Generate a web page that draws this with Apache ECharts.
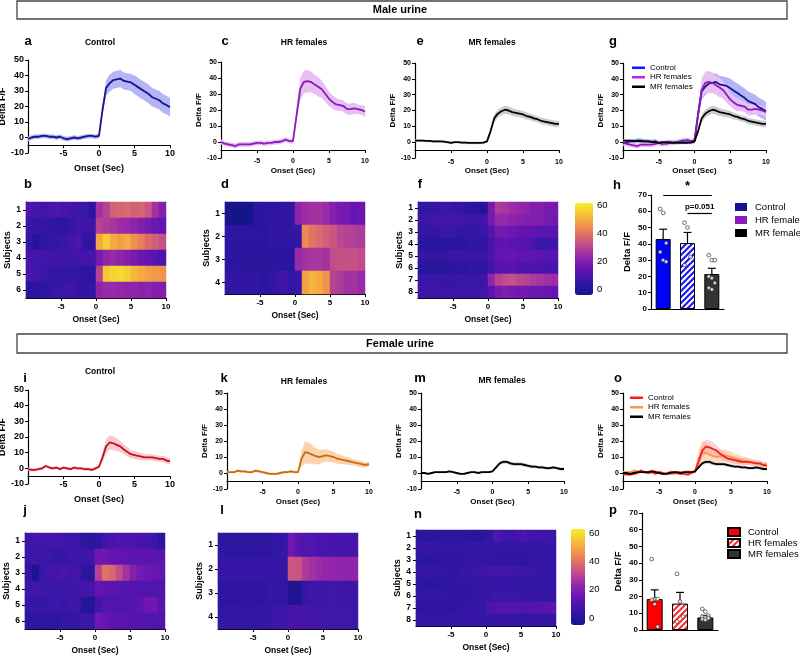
<!DOCTYPE html>
<html><head><meta charset="utf-8">
<script src="https://cdn.jsdelivr.net/npm/echarts@6/dist/echarts.min.js"></script>
<style>html,body{margin:0;padding:0;background:#fff}#c{width:800px;height:657px}</style>
</head><body><div id="c"></div>
<script>
// ---------- DATA ----------
const T = [-10,-9.5,-9,-8.5,-8,-7.5,-7,-6.5,-6,-5.5,-5,-4.5,-4,-3.5,-3,-2.5,-2,-1.5,-1,-0.5,0,0.5,1,1.5,2,2.5,3,3.5,4,4.5,5,5.5,6,6.5,7,7.5,8,8.5,9,9.5,10];

const maleControlMean = [-1,0,0.5,0.5,1,1,0.5,0.5,0,0.5,-0.5,-1,-0.5,0,-0.5,0,0.5,1,1,0.5,1, 18,32,35,37,37.5,38,36.5,36,35.5,34,32.5,31,29.5,28,26,25,24,22,21,19.5];
const maleControlSem  = [1.5,1.5,1.5,1.5,1.5,1.5,1.5,1.5,1.5,1.5,1.5,1.5,1.5,1.5,1.5,1.5,1.5,1.5,1.5,1.5,1.5, 3,5,5.5,5.5,5.5,5.5,5.5,5.5,5.5,6,6,6,6,6,6,6,6,6,6,6];
const maleHRMean = [0,-1,-1.5,-2,-2.5,-1.5,-1.5,-1.5,-1.5,-1,-0.5,-0.5,-1,-0.5,-0.5,0,0,0.5,1.5,0.5,0.5, 17,33,37.5,38,37.5,36,34.5,33,30,27,25,23.5,23,22.5,20.5,20.5,21,20.5,20,19];
const maleHRSem  = [1.5,1.5,1.5,1.5,1.5,1.5,1.5,1.5,1.5,1.5,1.5,1.5,1.5,1.5,1.5,1.5,1.5,1.5,1.5,1.5,1.5, 4,7,7,7,6.5,6,6,5.5,5,4.5,4,4,3.5,3.5,3.5,3.5,3.5,3,3,3.5];
const maleMRMean = [1,1,1,0.8,0.8,0.5,0.5,0.5,0.3,0,-0.5,0,0,-0.3,-0.3,-0.5,-0.5,-0.5,-0.5,-0.3,0.5, 7,15,18,19.5,20.5,20,19,18.5,18,17.5,16.5,16,15,14.5,13.5,13,12.5,12,11.5,11.5];
const maleMRSem  = [0.8,0.8,0.8,0.8,0.8,0.8,0.8,0.8,0.8,0.8,0.8,0.8,0.8,0.8,0.8,0.8,0.8,0.8,0.8,0.8,0.8, 1.5,2.5,2.5,2.5,2.5,2.5,2.5,2.3,2.3,2.2,2.2,2,2,2,2,2,2,2,2,2];

const femaleControlMean = [-0.5,-1,-1,-0.5,0,1.5,0.5,0,0.5,-0.5,0.5,0,-0.5,0.5,0,0,-0.5,-0.5,-1,0,1, 7,14,16.5,16,15,14,12,10.5,9,8.5,8,7.5,7,7,7,6.5,6,6,5,4.5];
const femaleControlSem  = [1,1,1,1,1,1,1,1,1,1,1,1,1,1,1,1,1,1,1,1,1, 3,4.5,4.5,4.5,4,3.5,3,3,2.5,2.5,2.5,2.2,2.2,2,2,2,2,2,2,1.8];
const femaleHRMean = [0.5,0.5,0.5,1.5,1,1,0.5,0.5,1.5,1,0.5,0,-0.5,-0.5,-0.5,0,0.5,0.5,1,0.5,0.5, 9,13,12.5,11.5,10.5,10,10.5,11,10.5,10,9,8.5,8,7.5,7,6.5,6,5.5,5,5.5];
const femaleHRSem  = [0.8,0.8,0.8,0.8,0.8,0.8,0.8,0.8,0.8,0.8,0.8,0.8,0.8,0.8,0.8,0.8,0.8,0.8,0.8,0.8,0.8, 5,7,6.5,6,5,4.5,4,4,3.5,3.5,3,3,2.5,2.5,2,2,2,2,1.5,1.5];
const femaleMRMean = [0,0,-0.5,0,0.5,0.5,0.5,0.5,1,0.5,0,-0.5,-0.5,0,0.5,0.5,0,0.5,0.5,0.5,1, 3.5,6,7,7,6,5.5,5.5,5.5,5,4.5,4,4,3.5,3.5,3,3,3.5,3,2.5,2.5];
const femaleMRSem  = [0.7,0.7,0.7,0.7,0.7,0.7,0.7,0.7,0.7,0.7,0.7,0.7,0.7,0.7,0.7,0.7,0.7,0.7,0.7,0.7,0.7, 1,1.2,1.2,1.2,1.2,1.2,1.2,1.2,1.1,1.1,1.1,1,1,1,1,1,1,1,1,1];

// heatmap time bins (centres, s) and subject labels
const BINS = ['-9.5','-8.5','-7.5','-6.5','-5.5','-4.5','-3.5','-2.5','-1.5','-0.5','0.5','1.5','2.5','3.5','4.5','5.5','6.5','7.5','8.5','9.5'];
const subj4 = ['1','2','3','4'];
const subj6 = ['1','2','3','4','5','6'];
const subj8 = ['1','2','3','4','5','6','7','8'];

const hmMaleControl = [
 [10,9,8,9,10,9,8,7,6,3, 26,30,36,37,38,36,37,34,26,20],
 [6,5,5,4,3,3,5,7,8,7, 30,28,27,25,24,22,20,18,16,15],
 [5,0,4,5,5,6,8,10,4,3, 50,56,50,48,50,45,42,38,36,33],
 [9,8,8,8,7,8,7,8,8,9, 18,22,24,22,20,18,16,14,12,10],
 [10,8,6,5,5,4,5,4,3,2, 30,55,57,58,56,52,50,48,47,46],
 [2,2,3,4,6,7,7,5,4,5, 22,24,24,23,22,22,21,22,20,20]
];
const hmMaleHR = [
 [-3,-4,-4,-4,2,3,3,4,4,4, 22,25,26,26,24,20,18,17,15,16],
 [4,3,3,3,3,3,4,4,4,4, 5,44,40,38,36,34,31,30,29,28],
 [3,3,2,2,2,2,2,3,2,2, 24,26,27,27,26,32,33,33,33,32],
 [5,4,4,4,4,3,4,6,8,4, 6,48,52,50,46,30,28,26,26,24]
];
const hmMaleMR = [
 [4,5,5,6,6,5,4,3,1,0, 18,28,27,25,23,22,20,20,18,18],
 [7,7,8,8,8,8,8,7,7,8, 18,24,24,22,21,20,20,19,18,17],
 [5,5,5,6,6,5,5,5,5,6, 12,18,17,16,15,14,14,13,13,13],
 [3,2,2,2,2,2,3,4,4,4, 9,13,14,13,12,11,9,6,6,8],
 [5,5,5,5,5,6,6,6,6,6, 10,14,15,15,14,14,13,13,12,12],
 [2,1,1,1,2,3,3,4,4,4, 8,12,12,12,11,10,10,10,9,9],
 [6,6,6,6,5,6,6,6,6,7, 22,30,32,33,31,30,28,27,26,25],
 [7,7,7,7,6,7,7,7,8,8, 13,18,19,18,17,17,16,16,15,15]
];
const hmFemaleControl = [
 [7,8,7,8,7,7,6,6,3,1, 3,7,9,10,9,9,8,8,6,2],
 [6,6,6,6,5,5,6,6,6,7, 16,16,14,14,13,12,13,13,12,12],
 [4,-3,5,7,8,9,7,8,2,1, 30,40,38,32,26,20,17,16,15,14],
 [7,7,7,6,6,6,6,7,8,8, 14,13,12,12,11,11,10,10,10,10],
 [5,5,5,6,6,5,6,6,0,-1, 8,10,11,10,10,11,13,16,16,12],
 [3,3,2,2,3,4,4,5,6,6, 16,15,13,12,12,11,11,11,10,10]
];
const hmFemaleHR = [
 [3,2,2,2,2,3,3,3,4,5, 16,12,10,10,9,9,8,8,8,8],
 [5,5,5,5,5,5,5,5,5,5, 34,34,28,26,24,23,22,22,22,22],
 [3,3,3,3,3,3,3,4,4,4, -2,-2,5,6,6,7,7,7,6,6],
 [4,5,5,4,4,4,5,5,6,6, 8,8,8,8,7,7,7,7,7,7]
];
const hmFemaleMR = [
 [2,1,2,3,3,2,3,2,1,1, 4,10,8,6,8,9,8,7,6,6],
 [5,5,5,5,4,4,4,5,5,5, 5,5,4,4,4,5,5,5,5,5],
 [3,2,2,3,3,3,3,4,4,4, 4,3,3,3,3,3,4,4,5,5],
 [5,5,5,4,4,3,5,5,6,6, 7,8,7,7,6,6,6,5,5,5],
 [3,2,2,2,3,4,4,4,4,5, 5,5,5,5,4,4,4,4,5,5],
 [4,4,5,4,4,3,3,3,4,4, 5,6,6,6,6,5,5,5,5,5],
 [2,2,3,3,3,3,4,5,5,5, 9,10,11,11,10,10,10,11,12,12],
 [4,4,4,4,5,5,5,5,5,5, 5,5,5,5,5,5,5,5,5,5]
];

// bar charts
const barCats = ['Control','HR females','MR females'];
const hMeans = [43, 40.5, 21.5];
const hSems  = [6, 6.5, 3.5];
const hPoints = [[61.5,59,40.5,35,30,29],[53,50,32,27],[33,30,30,20,19,16,13,12]];
const pMeans = [18.5, 15.8, 7.5];
const pSems  = [5.5, 6.7, 1.2];
const pPoints = [[42.4,18.5,18.5,18,15.5,2],[33.6,17,8,5],[12.6,11,8.5,8,7.5,7,6.5,6]];

const colorbarTicks = [0,20,40,60];

// ---------- BUILD ----------
const FONT = '"Liberation Sans", Arial, Helvetica, sans-serif';
const CMAP = ['#15158a','#3516a6','#6514b3','#9a2aa8','#c95484','#ec8455','#f8b83a','#f2f224'];
const grids=[], xAxes=[], yAxes=[], series=[], legends=[], visualMaps=[], graphics=[];
function addGrid(l,t,w,h){grids.push({left:l,top:t,width:w,height:h,containLabel:false,outerBoundsMode:'none'});return grids.length-1;}
const axLine={show:true,onZero:false,lineStyle:{color:'#000',width:1.2}};
const axTick={show:true,length:3,lineStyle:{color:'#000',width:1}};
function lbl(fs,m,w){return {fontSize:fs,fontWeight:w||'bold',color:'#000',margin:m,fontFamily:FONT};}
function nts(fs){return {fontSize:fs,fontWeight:'bold',color:'#000',fontFamily:FONT};}

function bandSeries(xi,yi,mean,sem,color){
  return {type:'custom',xAxisIndex:xi,yAxisIndex:yi,silent:true,data:[[0,0]],clip:false,
    renderItem:(p,api)=>{
      if(p.dataIndex!==0) return;
      const up=T.map((t,i)=>api.coord([t,mean[i]+sem[i]]));
      const lo=T.map((t,i)=>api.coord([t,mean[i]-sem[i]])).reverse();
      return {type:'polygon',shape:{points:up.concat(lo)},style:{fill:color}};
    }};
}
function lineSeries(xi,yi,mean,color,name){
  return {type:'line',name:name,xAxisIndex:xi,yAxisIndex:yi,data:T.map((t,i)=>[t,mean[i]]),
    showSymbol:false,symbol:'none',lineStyle:{color:color,width:1.8},itemStyle:{color:color},silent:true};
}
function linePanel(p){
  const gi=addGrid(p.l,p.t,p.w,p.h);
  const xi=xAxes.length;
  xAxes.push({gridIndex:gi,type:'value',min:-10,max:10,interval:5,position:'bottom',offset:-p.h/12,
    axisLine:axLine,axisTick:axTick,splitLine:{show:false},
    axisLabel:Object.assign(lbl(p.fs,p.xm),{showMinLabel:false}),
    name:'Onset (Sec)',nameLocation:'middle',nameGap:p.xng,nameTextStyle:nts(p.nfs)});
  const yi=yAxes.length;
  yAxes.push({gridIndex:gi,type:'value',min:-10,max:50,interval:10,
    axisLine:axLine,axisTick:axTick,splitLine:{show:false},axisLabel:lbl(p.fs,4),
    name:'Delta F/F',nameLocation:'middle',nameRotate:90,nameGap:p.yng,nameTextStyle:nts(p.nfs)});
  p.traces.forEach(tr=>{
    series.push(bandSeries(xi,yi,tr.mean,tr.sem,tr.band));
    series.push(lineSeries(xi,yi,tr.mean,tr.color,tr.name));
  });
}
function heatPanel(p){
  const gi=addGrid(p.l,p.t,p.w,p.h);
  const xc=xAxes.length;
  xAxes.push({gridIndex:gi,type:'category',data:BINS,show:false,position:'bottom'});
  xAxes.push({gridIndex:gi,type:'value',min:-10,max:10,interval:5,position:'bottom',
    axisLine:axLine,axisTick:axTick,splitLine:{show:false},
    axisLabel:Object.assign(lbl(8,5),{showMinLabel:false}),
    name:'Onset (Sec)',nameLocation:'middle',nameGap:p.xng,nameTextStyle:nts(8.5)});
  const yc=yAxes.length;
  yAxes.push({gridIndex:gi,type:'category',data:p.subj,inverse:true,
    axisLine:axLine,axisTick:Object.assign({alignWithLabel:true},axTick),splitLine:{show:false},
    axisLabel:lbl(8.5,5),name:'Subjects',nameLocation:'middle',nameRotate:90,nameGap:p.yng,nameTextStyle:nts(9)});
  const data=[];
  p.rows.forEach((r,yi)=>r.forEach((v,xi)=>data.push([xi,yi,v])));
  series.push({type:'heatmap',xAxisIndex:xc,yAxisIndex:yc,data:data,silent:true,emphasis:{disabled:true},z:1});
  return series.length-1;
}
function colorbar(p){
  visualMaps.push({type:'continuous',min:p.min,max:p.max,seriesIndex:p.sidx,inRange:{color:CMAP},
    left:p.l,top:p.t,itemWidth:p.w,itemHeight:p.h,calculable:false,hoverLink:false,padding:0,text:null,orient:'vertical'});
  const gi=addGrid(p.l,p.t,p.w,p.h);
  xAxes.push({gridIndex:gi,type:'value',show:false,min:0,max:1});
  yAxes.push({gridIndex:gi,type:'value',position:'right',min:p.min,max:p.max,
    axisLine:{show:false},axisTick:{show:true,length:3,inside:false,customValues:colorbarTicks,lineStyle:{color:'#000'}},
    splitLine:{show:false},axisLabel:Object.assign(lbl(9.5,4,'normal'),{customValues:colorbarTicks})});
}
function hatch(color){
  const c=document.createElement('canvas');c.width=c.height=6;
  const g=c.getContext('2d');g.fillStyle='#fff';g.fillRect(0,0,6,6);
  g.strokeStyle=color;g.lineWidth=2.2;g.beginPath();
  g.moveTo(-1,7);g.lineTo(7,-1);g.moveTo(-4,4);g.lineTo(4,-4);g.moveTo(2,10);g.lineTo(10,2);g.stroke();
  return {image:c,repeat:'repeat'};
}
function barPanel(p){
  const gi=addGrid(p.l,p.t,p.w,p.h);
  const xi=xAxes.length;
  xAxes.push({gridIndex:gi,type:'category',data:barCats,axisLine:axLine,axisTick:{show:false},axisLabel:{show:false},splitLine:{show:false}});
  const yi=yAxes.length;
  yAxes.push({gridIndex:gi,type:'value',min:0,max:70,interval:10,axisLine:axLine,axisTick:axTick,splitLine:{show:false},
    axisLabel:lbl(8,4),name:'Delta F/F',nameLocation:'middle',nameRotate:90,nameGap:p.yng,nameTextStyle:nts(9.5)});
  p.fills.forEach((f,k)=>{
    const s={type:'bar',name:barCats[k]+p.suffix,xAxisIndex:xi,yAxisIndex:yi,barWidth:p.bw,barGap:'-100%',
      data:barCats.map((c,j)=>j===k?p.means[k]:'-'),itemStyle:{color:f,borderColor:'#000',borderWidth:1},silent:true,z:2};
    if(k===0 && p.sig){
      s.markLine={silent:true,symbol:['none','none'],animation:false,
        lineStyle:{color:'#000',width:1.2,type:'solid'},
        label:{show:true,position:'middle',color:'#000',fontWeight:'bold',fontFamily:FONT,distance:2},
        data:p.sig.map(g=>[{coord:[g[0],g[2]],label:{formatter:g[3],fontSize:g[4]}},{coord:[g[1],g[2]]}])};
    }
    series.push(s);
  });
  series.push({type:'custom',xAxisIndex:xi,yAxisIndex:yi,z:4,silent:true,
    data:p.means.map((m,i)=>[i,m,p.sems[i]]),encode:{x:0,y:1},
    renderItem:(pr,api)=>{
      const x=api.value(0),m=api.value(1),s=api.value(2);
      const b=api.coord([x,m]),t=api.coord([x,m+s]);
      return {type:'group',children:[
        {type:'line',shape:{x1:b[0],y1:b[1],x2:t[0],y2:t[1]},style:{stroke:'#000',lineWidth:1.2}},
        {type:'line',shape:{x1:t[0]-4,y1:t[1],x2:t[0]+4,y2:t[1]},style:{stroke:'#000',lineWidth:1.2}}]};
    }});
  p.points.forEach((arr,k)=>{
    series.push({type:'scatter',xAxisIndex:xi,yAxisIndex:yi,z:5,silent:true,symbol:'circle',symbolSize:3.8,
      data:arr.map((v,i)=>({value:[k,v],symbolOffset:[((i%3)-1)*3,0]})),
      itemStyle:{color:'#fff',borderColor:'#222',borderWidth:0.8}});
  });
  legends.push({orient:'vertical',left:p.legL,top:p.legT,itemWidth:12,itemHeight:8,itemGap:p.legGap,icon:'rect',
    selectedMode:false,data:barCats.map(c=>c+p.suffix),formatter:n=>n.trim(),
    textStyle:{fontSize:9.5,color:'#000',fontFamily:FONT,lineHeight:10,padding:[0,0,0,3]}});
}

// ---- male row ----
linePanel({l:28,t:60,w:142,h:93,fs:9,nfs:9,xm:4,xng:19,yng:18,
  traces:[{mean:maleControlMean,sem:maleControlSem,color:'#14148c',band:'#b3b5f6'}]});
linePanel({l:221,t:62,w:144,h:96,fs:7,nfs:8,xm:8,xng:17,yng:18,
  traces:[{mean:maleHRMean,sem:maleHRSem,color:'#8c1bbd',band:'#e8bff2'}]});
linePanel({l:415,t:63,w:144,h:95,fs:7,nfs:8,xm:8,xng:17,yng:18,
  traces:[{mean:maleMRMean,sem:maleMRSem,color:'#000',band:'#cdcdcd'}]});
linePanel({l:623,t:63,w:143,h:95,fs:7,nfs:8,xm:8,xng:17,yng:18,
  traces:[{mean:maleControlMean,sem:maleControlSem,color:'#14148c',band:'#b3b5f6',name:'Control'},
          {mean:maleHRMean,sem:maleHRSem,color:'#8c1bbd',band:'#e8bff2',name:'HR females'},
          {mean:maleMRMean,sem:maleMRSem,color:'#000',band:'#cdcdcd',name:'MR females'}]});
legends.push({orient:'vertical',left:627,top:58,itemWidth:13,itemHeight:2.5,itemGap:0,icon:'rect',selectedMode:false,
  data:[{name:'Control',itemStyle:{color:'#1515ff'}},{name:'HR females',itemStyle:{color:'#c020e8'}},{name:'MR females',itemStyle:{color:'#000'}}],
  textStyle:{fontSize:8,color:'#000',fontFamily:FONT,lineHeight:9.5}});

const sB=heatPanel({l:26,t:202,w:140,h:96,subj:subj6,rows:hmMaleControl,xng:17,yng:14});
const sD=heatPanel({l:225,t:202,w:140,h:92,subj:subj4,rows:hmMaleHR,xng:17,yng:14});
const sF=heatPanel({l:418,t:202,w:140,h:96,subj:subj8,rows:hmMaleMR,xng:17,yng:14});
colorbar({l:575,t:203,w:18,h:92,min:-4,max:62,sidx:[sB,sD,sF]});

barPanel({l:651,t:195,w:73,h:114,bw:15,yng:19,suffix:'',means:hMeans,sems:hSems,points:hPoints,
  fills:['#0000ff',hatch('#1a1aff'),'#333333'],legL:730,legT:197,legGap:3,
  sig:[['Control','MR females',70,'*',13],['HR females','MR females',59,'p=0.051',8]]});

// ---- female row ----
linePanel({l:28,t:390,w:142,h:94,fs:9,nfs:9,xm:4,xng:19,yng:18,
  traces:[{mean:femaleControlMean,sem:femaleControlSem,color:'#c0121a',band:'#f8c8ce'}]});
linePanel({l:227,t:393,w:142,h:96,fs:7,nfs:8,xm:8,xng:17,yng:18,
  traces:[{mean:femaleHRMean,sem:femaleHRSem,color:'#cc6a12',band:'#fbd3ad'}]});
linePanel({l:421,t:393,w:143,h:96,fs:7,nfs:8,xm:8,xng:17,yng:18,
  traces:[{mean:femaleMRMean,sem:femaleMRSem,color:'#000',band:'#cfcfcf'}]});
linePanel({l:623,t:393,w:144,h:96,fs:7,nfs:8,xm:8,xng:17,yng:18,
  traces:[{mean:femaleHRMean,sem:femaleHRSem,color:'#f39a4a',band:'#fcdcbc',name:'HR females '},
          {mean:femaleControlMean,sem:femaleControlSem,color:'#ff1a1a',band:'rgba(245,160,170,0.45)',name:'Control '},
          {mean:femaleMRMean,sem:femaleMRSem,color:'#000',band:'#cfcfcf',name:'MR females '}]});
legends.push({orient:'vertical',left:625,top:388,itemWidth:13,itemHeight:2.5,itemGap:0,icon:'rect',selectedMode:false,
  data:['Control ','HR females ','MR females '],formatter:n=>n.trim(),
  textStyle:{fontSize:8,color:'#000',fontFamily:FONT,lineHeight:9.5}});

const sJ=heatPanel({l:25,t:533,w:140,h:96,subj:subj6,rows:hmFemaleControl,xng:17,yng:14});
const sL=heatPanel({l:218,t:533,w:140,h:96,subj:subj4,rows:hmFemaleHR,xng:17,yng:14});
const sN=heatPanel({l:416,t:530,w:140,h:96,subj:subj8,rows:hmFemaleMR,xng:17,yng:14});
colorbar({l:571,t:529,w:14,h:96,min:-5,max:63,sidx:[sJ,sL,sN]});

barPanel({l:642,t:513,w:76,h:117,bw:16,yng:19,suffix:'   ',means:pMeans,sems:pSems,points:pPoints,
  fills:['#ff0000',hatch('#ff3030'),'#333333'],legL:722,legT:522,legGap:1});

// ---- text / banners ----
function txt(x,y,s,size,weight,align){graphics.push({type:'text',silent:true,style:{text:s,x:x,y:y,font:(weight||'bold')+' '+size+'px '+FONT,fill:'#000',align:align||'center',verticalAlign:'middle'}});}
graphics.push({type:'rect',silent:true,shape:{x:17,y:1,width:770,height:18},style:{fill:'#fff',stroke:'#444',lineWidth:1.3}});
graphics.push({type:'rect',silent:true,shape:{x:17,y:334,width:770,height:19},style:{fill:'#fff',stroke:'#444',lineWidth:1.3}});
txt(400,10,'Male urine',11);
txt(400,343.5,'Female urine',11);
[['a',28,41],['c',225,41],['e',420,41],['g',613,41],['b',28,184],['d',225,184],['f',420,184],['h',617,185],
 ['i',25,378],['k',224,378],['m',420,378],['o',618,378],['j',25,510],['l',222,510],['n',418,514],['p',613,510]]
 .forEach(a=>txt(a[1],a[2],a[0],13,'bold','center'));
txt(100,43,'Control',8.5); txt(304,43,'HR females',8.5); txt(492,43,'MR females',8.5);
txt(100,372,'Control',8.5); txt(304,382,'HR females',8.5); txt(502,381,'MR females',8.5);

const chart=echarts.init(document.getElementById('c'),null,{renderer:'canvas'});
chart.setOption({animation:false,backgroundColor:'#fff',textStyle:{fontFamily:FONT},
  grid:grids,xAxis:xAxes,yAxis:yAxes,series:series,legend:legends,visualMap:visualMaps,graphic:graphics,tooltip:{show:false}});
</script></body></html>
